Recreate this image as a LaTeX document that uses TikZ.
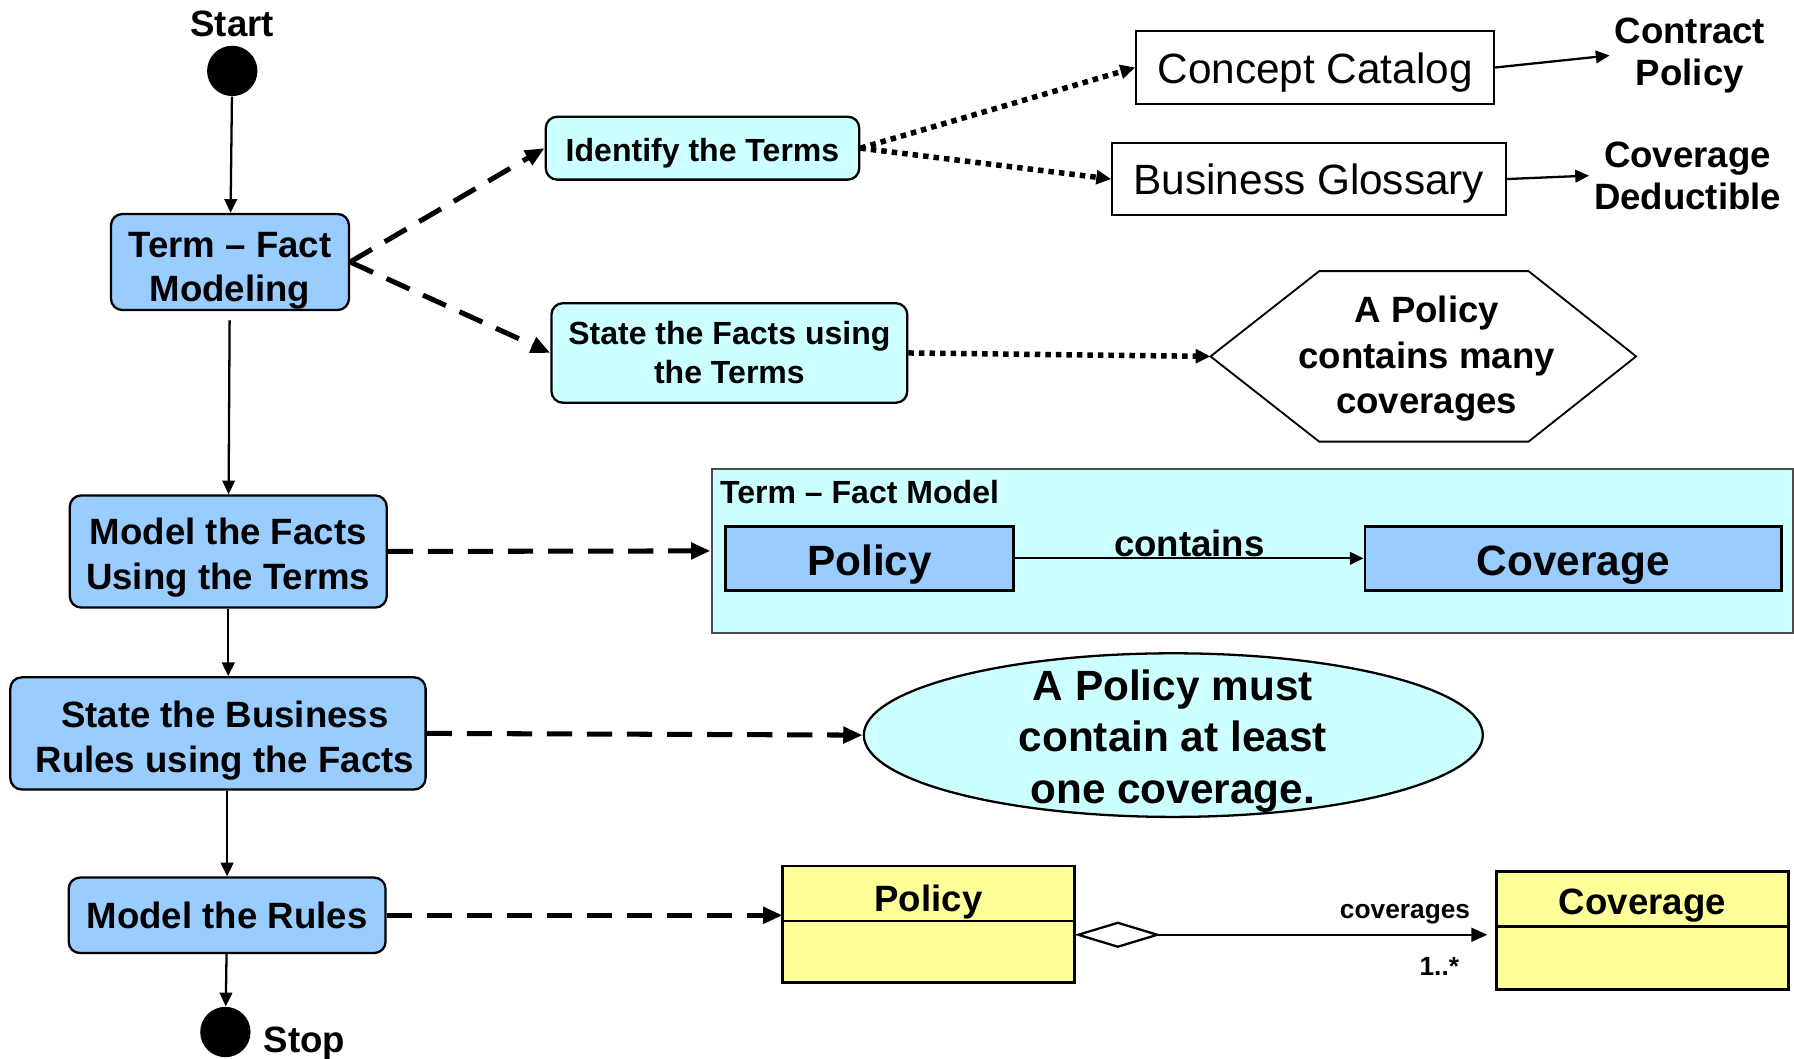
\documentclass[tikz,border=0pt]{standalone}
\usepackage{fontspec}
\setmainfont{Liberation Sans}
\usepackage{tikz}
\usetikzlibrary{positioning,shapes.geometric,arrows.meta}
\definecolor{actblue}{RGB}{153,204,255}
\definecolor{palecyan}{RGB}{204,255,255}
\definecolor{umlyellow}{RGB}{255,255,153}
\newcommand{\lowr}[1]{\rule{0pt}{\dimexpr0.73em+#1\relax}}
\tikzstyle{actbox} = [draw=black, fill=actblue, line width=1pt, rectangle, rounded corners=5pt,
    align=center, inner xsep=2pt, inner ysep=0pt, font=\fontsize{16}{19.5}\selectfont\bfseries]
\tikzstyle{subbox} = [draw=black, fill=palecyan, line width=1pt, rectangle, rounded corners=5pt,
    align=center, inner sep=2pt, font=\fontsize{14}{17}\selectfont\bfseries]
\tikzstyle{docbox} = [draw=black, line width=0.8pt, rectangle, inner sep=2pt, font=\fontsize{18.5}{22}\selectfont]
\tikzstyle{termtxt} = [align=center, inner sep=2pt, font=\fontsize{16}{18.5}\selectfont\bfseries]
\tikzstyle{factbox} = [draw=black, fill=actblue, line width=1.2pt, inner sep=2pt, font=\fontsize{18.5}{22}\selectfont\bfseries]
\tikzstyle{umlhead} = [draw=black, fill=umlyellow, line width=1.2pt, outer sep=0pt, inner sep=0pt,
    font=\fontsize{16}{19}\selectfont\bfseries]
\tikzstyle{umlbody} = [draw=black, fill=umlyellow, line width=1.2pt, outer sep=0pt]
\tikzstyle{endpt} = [circle, fill=black, minimum size=22pt, inner sep=0pt]
\tikzstyle{flow} = [-{Triangle[length=6pt,width=5.5pt]}, line width=1pt]
\tikzstyle{dashflow} = [-{Triangle[length=8.5pt,width=7pt]}, line width=2.2pt, dash pattern=on 11pt off 6.5pt]
\tikzstyle{dotflow} = [-{Triangle[length=6.5pt,width=6pt]}, line width=2.4pt, dash pattern=on 2.4pt off 2.2pt]

\begin{document}
\begin{tikzpicture}[x=0.5pt,y=-0.5pt]
\useasboundingbox (0,0) rectangle (1568,925);
% main activity column
\node [endpt] (start) at (203,62) {};
\node [termtxt] (starttxt) at (203,21) {Start};
\node [actbox, minimum width=104pt, minimum height=42pt] (tfm) at (201,229) {\lowr{7pt}Term – Fact\\Modeling};
\node [actbox, minimum width=138.5pt, minimum height=49pt] (mft) at (199.5,482) {\lowr{5.5pt}Model the Facts\\Using the Terms};
\node [actbox, minimum width=181.5pt, minimum height=49pt] (sbr) at (190.5,641) {\lowr{6pt}\hspace*{6pt}State the Business\\\hspace*{6pt}Rules using the Facts};
\node [actbox, minimum width=138.5pt, minimum height=33pt] (mtr) at (198.5,800) {Model the Rules};
\node [endpt] (stop) at (197,902) {};
\node [termtxt] (stoptxt) at (266,912) {Stop};
\draw [flow] (start) -- (tfm);
\draw [flow, shorten <=4pt] (tfm) -- (mft);
\draw [flow] (mft.south) -- (mft.south |- sbr.north);
\draw [flow] (mtr.north |- sbr.south) -- (mtr.north);
\draw [flow] (mtr) -- (stop);

% terms and facts
\node [subbox, minimum width=137pt, minimum height=27.5pt] (ident) at (614,129.5) {\lowr{4pt}Identify the Terms};
\node [subbox, minimum width=155.5pt, minimum height=43.5pt] (statef) at (637.5,308.5) {State the Facts using\\the Terms};
\node [docbox, minimum width=156.5pt, minimum height=32pt] (catalog) at (1149.5,59) {\lowr{4pt}Concept Catalog};
\node [docbox, minimum width=172pt, minimum height=31.5pt] (gloss) at (1144,156.5) {\lowr{4pt}Business Glossary};
\node [termtxt] (contract) at (1477,48.5) {Contract\\Policy};
\node [termtxt] (covded) at (1475,153.5) {Coverage\\Deductible};
\coordinate (hexc) at (1244.5,311.5);
\coordinate (hexl) at ([shift={(-186.5,0)}]hexc);
\draw [line width=0.8pt] (hexl) -- ([shift={(-91.5,-74.5)}]hexc) -- ([shift={(91.5,-74.5)}]hexc)
    -- ([shift={(185.5,0)}]hexc) -- ([shift={(91.5,74.5)}]hexc) -- ([shift={(-91.5,74.5)}]hexc) -- cycle;
\node [termtxt, font=\fontsize{16}{20}\selectfont\bfseries] (hexa) at (1247,313.5) {A Policy\\contains many\\coverages};
\draw [dashflow] (tfm.east) -- (ident.west);
\draw [dashflow] (tfm.east) -- (statef.west);
\draw [dotflow] (ident.east) -- (catalog.west);
\draw [dotflow] (ident.east) -- (gloss.west);
\draw [flow] (catalog.east) -- (contract.west);
\draw [flow] (gloss.east) -- (covded.west);
\draw [dotflow] (statef.east) -- (hexl);

% term-fact model
\node [draw=black!70, fill=palecyan, line width=1pt, minimum width=472.5pt, minimum height=71.5pt] (fmodel) at (1094.5,481.5) {};
\node [anchor=north west, inner sep=2pt, font=\fontsize{14}{17}\selectfont\bfseries] (fmtitle) at ([xshift=2pt,yshift=-3pt]fmodel.north west) {Term – Fact Model};
\node [factbox, minimum width=126pt, minimum height=28pt] (fpol) at (760,488) {\lowr{5pt}Policy};
\node [factbox, minimum width=182pt, minimum height=28pt] (fcov) at (1375,488) {\lowr{5pt}Coverage};
\draw [flow] (fpol) -- node [above, inner sep=0pt, font=\fontsize{16}{19}\selectfont\bfseries] {contains} (fcov);
\draw [dashflow] (mft.east) -- (fmodel.west);

% business rule
\node [ellipse, draw=black, fill=palecyan, line width=1pt, minimum width=270.5pt, minimum height=71.5pt, inner sep=0pt] (rule) at (1025.5,642.5) {};
\node [align=center, font=\fontsize{18.5}{22.5}\selectfont\bfseries] (ruletxt) at (1025,647.5) {A Policy must\\contain at least\\one coverage.};
\draw [dashflow] (sbr.east) -- (rule.west);

% class model
\node [umlhead, minimum width=127.5pt, minimum height=24pt] (upol) at (811.5,781) {\lowr{7pt}Policy};
\node [umlbody, minimum width=127.5pt, minimum height=27pt, below=0pt of upol] (upolbody) {};
\node [umlhead, minimum width=127.5pt, minimum height=24pt] (ucov) at (1435.5,786) {\lowr{5pt}Coverage};
\node [umlbody, minimum width=127.5pt, minimum height=27.5pt, below=0pt of ucov] (ucovbody) {};
\draw [{Diamond[open,length=38pt,width=11.5pt]}-{Triangle[length=7pt,width=6pt]}, line width=1pt, shorten >=4pt]
    ([yshift=7.5pt]upolbody.east) -- ([yshift=7.5pt]upolbody.east -| ucovbody.west);
\node [font=\fontsize{11.5}{13}\selectfont\bfseries] (rolelbl) at (1228,799) {coverages};
\node [font=\fontsize{11.5}{13}\selectfont\bfseries] (multlbl) at (1258,845) {1..*};
\draw [dashflow] (mtr.east) -- (mtr.east -| upol.west);
\end{tikzpicture}
\end{document}
